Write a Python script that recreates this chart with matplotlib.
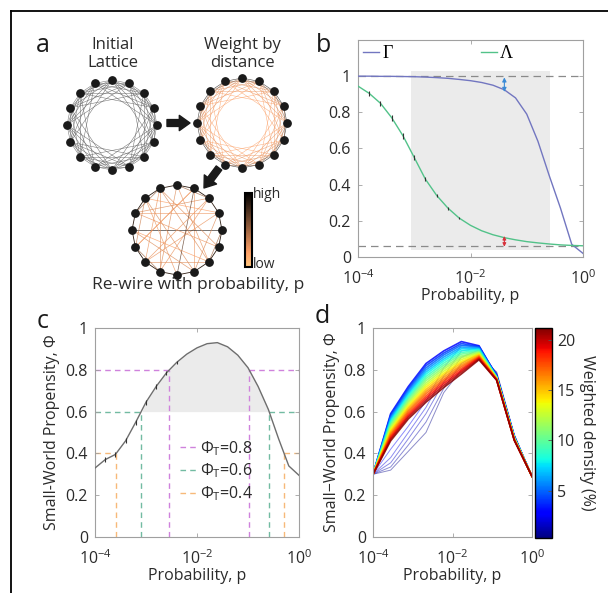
import matplotlib
matplotlib.use("Agg")
import matplotlib.pyplot as plt
import numpy as np
from matplotlib.cm import ScalarMappable
from matplotlib.colors import Normalize
from matplotlib.lines import Line2D
from matplotlib.ticker import NullLocator

plt.rcParams["font.family"] = ["Open Sans", "DejaVu Sans"]
plt.rcParams["mathtext.fontset"] = "custom"
plt.rcParams["mathtext.rm"] = "Open Sans"
plt.rcParams["mathtext.it"] = "Open Sans:italic"

# ---------------- data ----------------
# panel a: ring networks (16 nodes, node 0 at top, clockwise)
n_nodes = 16
lattice_hops = [1, 2, 3, 4, 5]
hop_weights = [0.95, 0.55, 0.3, 0.25, 0.2]
rewired_edges = [
    (0, 6, 0.25), (0, 9, 0.3), (1, 7, 0.25), (1, 11, 0.3), (2, 9, 0.25),
    (2, 13, 0.3), (3, 10, 0.25), (3, 14, 0.2), (12, 4, 0.95), (5, 13, 0.25),
    (5, 15, 0.3), (6, 12, 0.2), (7, 14, 0.3), (8, 1, 0.7), (8, 14, 0.25),
    (9, 15, 0.3), (10, 2, 0.25), (10, 6, 0.3), (11, 1, 0.2), (12, 7, 0.3),
    (13, 3, 0.25), (15, 6, 0.3), (15, 10, 0.25), (7, 3, 0.3), (14, 11, 0.35),
    (0, 2, 0.5), (4, 6, 0.5), (9, 11, 0.5), (13, 15, 0.5),
]

# panel b
p_b = [1e-4, 1.58e-4, 2.51e-4, 3.98e-4, 6.31e-4, 1e-3, 1.58e-3, 2.51e-3,
       3.98e-3, 6.31e-3, 1e-2, 1.58e-2, 2.51e-2, 3.98e-2, 6.31e-2, 0.1,
       0.158, 0.251, 0.398, 0.631, 1.0]
gamma = [1.0, 1.0, 0.999, 0.999, 0.998, 0.997, 0.995, 0.992, 0.988, 0.982,
         0.975, 0.965, 0.95, 0.925, 0.88, 0.79, 0.64, 0.45, 0.27, 0.07, 0.02]
lam = [0.945, 0.905, 0.85, 0.77, 0.67, 0.55, 0.43, 0.34, 0.27, 0.215, 0.175,
       0.145, 0.123, 0.107, 0.095, 0.085, 0.078, 0.072, 0.067, 0.064, 0.062]
lam_err = [0, 0.015, 0.015, 0.016, 0.016, 0.015, 0.012, 0.01, 0.008, 0.006,
           0, 0, 0, 0, 0, 0, 0, 0, 0, 0, 0]
shade_p = [8.7e-4, 0.26]
shade_y = [0.04, 1.03]
lam_floor = 0.062
arrow_p = 0.04
gamma_gap = [0.913, 0.993]
lam_gap = [0.057, 0.116]

# panel c
p_c = p_b
phi = [0.33, 0.37, 0.395, 0.46, 0.55, 0.645, 0.72, 0.785, 0.835, 0.875,
       0.905, 0.925, 0.93, 0.91, 0.87, 0.81, 0.72, 0.61, 0.47, 0.34, 0.295]
phi_err = [0, 0.012, 0.012, 0.012, 0.012, 0.012, 0.01, 0.01, 0.008, 0,
           0, 0, 0, 0, 0, 0, 0, 0, 0, 0, 0]
thresholds = [0.8, 0.6, 0.4]
thr_colors = ["#cf82dc", "#72bba2", "#f7b979"]
shade_level = 0.6

# panel d
p_d = [1e-4, 2.78e-4, 7.74e-4, 2.15e-3, 5.99e-3, 1.67e-2, 4.64e-2,
       0.129, 0.359, 1.0]
densities = [0.5, 1.0, 1.5, 2.0, 2.5, 3, 4, 5, 6, 7, 8, 9, 10, 11, 12,
             13, 14, 15, 16, 17, 18, 19, 20, 21]
phi_d = [
    [0.30, 0.320, 0.410, 0.500, 0.690, 0.800, 0.860, 0.790, 0.490, 0.29],
    [0.30, 0.335, 0.440, 0.550, 0.710, 0.830, 0.880, 0.785, 0.488, 0.29],
    [0.30, 0.355, 0.470, 0.590, 0.740, 0.860, 0.895, 0.780, 0.486, 0.29],
    [0.30, 0.380, 0.500, 0.620, 0.770, 0.890, 0.905, 0.780, 0.484, 0.29],
    [0.30, 0.420, 0.530, 0.650, 0.810, 0.915, 0.915, 0.775, 0.482, 0.29],
    [0.30, 0.590, 0.720, 0.830, 0.890, 0.935, 0.915, 0.770, 0.480, 0.29],
    [0.30, 0.583, 0.711, 0.820, 0.880, 0.926, 0.911, 0.769, 0.479, 0.29],
    [0.30, 0.576, 0.703, 0.809, 0.871, 0.918, 0.908, 0.768, 0.478, 0.29],
    [0.30, 0.568, 0.694, 0.799, 0.861, 0.909, 0.904, 0.767, 0.477, 0.29],
    [0.30, 0.561, 0.686, 0.789, 0.851, 0.901, 0.900, 0.766, 0.476, 0.29],
    [0.30, 0.554, 0.677, 0.779, 0.842, 0.892, 0.897, 0.765, 0.475, 0.29],
    [0.30, 0.547, 0.668, 0.768, 0.832, 0.883, 0.893, 0.763, 0.474, 0.29],
    [0.30, 0.540, 0.660, 0.758, 0.822, 0.875, 0.889, 0.762, 0.473, 0.29],
    [0.30, 0.532, 0.651, 0.748, 0.812, 0.866, 0.885, 0.761, 0.472, 0.29],
    [0.30, 0.525, 0.643, 0.737, 0.803, 0.858, 0.882, 0.760, 0.471, 0.29],
    [0.30, 0.518, 0.634, 0.727, 0.793, 0.849, 0.878, 0.759, 0.470, 0.29],
    [0.30, 0.511, 0.625, 0.717, 0.783, 0.840, 0.874, 0.758, 0.469, 0.29],
    [0.30, 0.504, 0.617, 0.706, 0.774, 0.832, 0.871, 0.757, 0.468, 0.29],
    [0.30, 0.496, 0.608, 0.696, 0.764, 0.823, 0.867, 0.756, 0.467, 0.29],
    [0.30, 0.489, 0.600, 0.686, 0.754, 0.815, 0.863, 0.755, 0.466, 0.29],
    [0.30, 0.482, 0.591, 0.675, 0.745, 0.806, 0.860, 0.754, 0.465, 0.29],
    [0.30, 0.475, 0.582, 0.665, 0.735, 0.797, 0.856, 0.752, 0.464, 0.29],
    [0.30, 0.468, 0.574, 0.655, 0.725, 0.789, 0.852, 0.751, 0.463, 0.29],
    [0.30, 0.460, 0.565, 0.645, 0.715, 0.780, 0.848, 0.750, 0.462, 0.29],
]
dens_range = [0.27, 21.2]
cbar_ticks = [5, 10, 15, 20]

log_ticks = [1e-4, 1e-2, 1e0]
y_ticks = [0, 0.2, 0.4, 0.6, 0.8, 1.0]
y_labels = ["0", "0.2", "0.4", "0.6", "0.8", "1"]

# ---------------- layout helpers ----------------
W, H = 608, 593
fig = plt.figure(figsize=(W / 100, H / 100), dpi=100)


def rect(l, t, r, b):
    return [l / W, 1 - b / H, (r - l) / W, (b - t) / H]


spine_col = "#a0a0a0"
text_col = "#2b2b2b"
fs = 11.5


def matlab_style(ax):
    for s in ax.spines.values():
        s.set_color(spine_col)
        s.set_linewidth(0.8)
    ax.tick_params(direction="in", length=3, width=0.6, color=spine_col,
                   labelsize=fs, labelcolor=text_col, top=True, right=True)
    ax.tick_params(axis="x", pad=9)
    ax.tick_params(axis="y", pad=5)
    ax.set_xscale("log")
    ax.set_xlim(1e-4, 1)
    ax.set_xticks(log_ticks)
    ax.xaxis.set_minor_locator(NullLocator())
    ax.set_yticks(y_ticks)
    ax.set_yticklabels(y_labels)
    ax.set_xlabel("Probability, p", fontsize=fs, color=text_col, labelpad=0)


# ---------------- panel a ----------------
ax_a = fig.add_axes([0, 0, 1, 1], zorder=-1)
ax_a.set_xlim(0, W)
ax_a.set_ylim(H, 0)
ax_a.axis("off")

# frame of the figure
ax_a.plot([11, 11], [H, 11], color="black", lw=1.3)
ax_a.plot([11, W], [11, 11], color="black", lw=1.3)

copper = plt.get_cmap("copper_r")


def ring(cx, cy, r=45):
    ang = np.deg2rad(90 - 360 / n_nodes * np.arange(n_nodes))
    return cx + r * np.cos(ang), cy - r * np.sin(ang)


def draw_nodes(xs, ys):
    ax_a.scatter(xs, ys, s=28, color="#1a1a1a", zorder=5)


# initial lattice
xs, ys = ring(112, 125)
for hop in lattice_hops:
    for i in range(n_nodes):
        j = (i + hop) % n_nodes
        ax_a.plot([xs[i], xs[j]], [ys[i], ys[j]], color="#666666", lw=0.4,
                  alpha=0.85)
draw_nodes(xs, ys)

# weighted by distance
xs, ys = ring(242, 123)
for hop, w in zip(lattice_hops, hop_weights):
    for i in range(n_nodes):
        j = (i + hop) % n_nodes
        ax_a.plot([xs[i], xs[j]], [ys[i], ys[j]], color=copper(w), lw=0.4,
                  alpha=0.75)
draw_nodes(xs, ys)

# rewired
xs, ys = ring(177, 230)
for i in range(n_nodes):
    j = (i + 1) % n_nodes
    ax_a.plot([xs[i], xs[j]], [ys[i], ys[j]], color=copper(0.85), lw=0.6)
for i, j, w in rewired_edges:
    ax_a.plot([xs[i], xs[j]], [ys[i], ys[j]], color=copper(w), lw=0.5,
              alpha=0.8)
draw_nodes(xs, ys)

arrow_kw = dict(arrowstyle="simple,head_length=0.7,head_width=1.0,tail_width=0.45",
                color="#1a1a1a", mutation_scale=11, shrinkA=0, shrinkB=0)
ax_a.annotate("", xy=(190, 123), xytext=(167, 123), arrowprops=arrow_kw)
ax_a.annotate("", xy=(204, 188), xytext=(219, 168), arrowprops=arrow_kw)

ax_a.text(113, 54, "Initial\nLattice", ha="center", va="center",
          fontsize=12, color=text_col, linespacing=1.15)
ax_a.text(242, 54, "Weight by\ndistance", ha="center", va="center",
          fontsize=12, color=text_col, linespacing=1.15)
ax_a.text(198, 285, "Re-wire with probability, p", ha="center", va="center",
          fontsize=12.5, color=text_col)
ax_a.text(253, 195, "high", ha="left", va="center", fontsize=10, color=text_col)
ax_a.text(253, 265, "low", ha="left", va="center", fontsize=10, color=text_col)

cax_a = fig.add_axes(rect(245, 193, 252, 267))
cb_a = fig.colorbar(ScalarMappable(cmap=copper), cax=cax_a)
cb_a.set_ticks([])
cb_a.outline.set_linewidth(1.5)
cb_a.outline.set_edgecolor("black")

# panel letters
for letter, x, y in [("a", 43, 46), ("b", 323, 46), ("c", 43, 322), ("d", 322, 317)]:
    fig.text(x / W, 1 - y / H, letter, fontsize=18, ha="center", va="center",
             color="#1a1a1a")

# ---------------- panel b ----------------
ax_b = fig.add_axes(rect(358, 40, 583, 257))
matlab_style(ax_b)
ax_b.set_ylim(0, 1.2)
ax_b.fill_between(shade_p, shade_y[0], shade_y[1], color="#ebebeb", lw=0, zorder=0)
ax_b.axhline(1.0, color="#8a8a8a", lw=0.9, ls=(0, (6, 4)), zorder=1)
ax_b.axhline(lam_floor, color="#8a8a8a", lw=0.9, ls=(0, (6, 4)), zorder=1)
ax_b.plot(p_b, gamma, color="#7276c0", lw=1.0, label="Γ", zorder=3)
ax_b.plot(p_b, lam, color="#52c289", lw=1.0, label="Λ", zorder=3)
ax_b.errorbar(p_b, lam, yerr=lam_err, fmt="none", ecolor="#333333",
              elinewidth=0.8, zorder=4)
ax_b.annotate("", xy=(arrow_p, gamma_gap[1]), xytext=(arrow_p, gamma_gap[0]),
              arrowprops=dict(arrowstyle="<|-|>", color="#3a8ad6", lw=0.8,
                              mutation_scale=6, shrinkA=0, shrinkB=0))
ax_b.annotate("", xy=(arrow_p, lam_gap[1]), xytext=(arrow_p, lam_gap[0]),
              arrowprops=dict(arrowstyle="<|-|>", color="#d8323c", lw=0.8,
                              mutation_scale=5, shrinkA=0, shrinkB=0))
ax_b.legend(loc="upper left", bbox_to_anchor=(0.0, 1.0), ncol=2,
            frameon=False, handlelength=0.85, handletextpad=0.2,
            borderaxespad=0.1, borderpad=0.2,
            columnspacing=4.9, prop={"family": "Liberation Serif", "size": 13})

# ---------------- panel c ----------------
ax_c = fig.add_axes(rect(95, 328, 299, 537))
matlab_style(ax_c)
ax_c.set_ylim(0, 1)
ax_c.set_ylabel("Small-World Propensity, Φ", fontsize=fs, color=text_col,
                labelpad=4)
logp = np.log10(p_c)
phi_arr = np.array(phi)
ax_c.fill_between(p_c, shade_level, phi_arr, where=phi_arr >= shade_level,
                  interpolate=True, color="#ebebeb", lw=0, zorder=0)
peak = int(np.argmax(phi_arr))
handles = []
for thr, col in zip(thresholds, thr_colors):
    p_left = 10 ** np.interp(thr, phi_arr[:peak + 1], logp[:peak + 1])
    p_right = 10 ** np.interp(thr, phi_arr[peak:][::-1], logp[peak:][::-1])
    kw = dict(color=col, lw=1.0, ls=(0, (4, 3)), zorder=1)
    ax_c.plot([1e-4, p_left], [thr, thr], **kw)
    ax_c.plot([p_right, 1], [thr, thr], **kw)
    ax_c.plot([p_left, p_left], [0, thr], **kw)
    ax_c.plot([p_right, p_right], [0, thr], **kw)
    handles.append(Line2D([], [], **kw, label="Φ$_\\mathregular{T}$=%.1f" % thr))
ax_c.plot(p_c, phi, color="#6e6e6e", lw=1.0, zorder=3)
ax_c.errorbar(p_c, phi, yerr=phi_err, fmt="none", ecolor="#333333",
              elinewidth=0.8, zorder=4)
ax_c.legend(handles=handles, loc="upper left", bbox_to_anchor=(0.385, 0.5),
            frameon=False, fontsize=fs, handlelength=1.0, handletextpad=0.25,
            borderaxespad=0.0, labelspacing=0.25, labelcolor=text_col)

# ---------------- panel d ----------------
ax_d = fig.add_axes(rect(373, 328, 532, 537))
matlab_style(ax_d)
ax_d.set_ylim(0, 1)
ax_d.set_ylabel("Small\u2212World Propensity, Φ", fontsize=fs, color=text_col,
                labelpad=3)
jet = plt.get_cmap("jet")
norm = Normalize(*dens_range)
for dens, row in zip(densities, phi_d):
    if dens < 3:
        ax_d.plot(p_d, row, color=jet(norm(dens)), lw=0.7, alpha=0.45)
    else:
        ax_d.plot(p_d, row, color=jet(norm(dens)), lw=1.2, alpha=0.85)

cax_d = fig.add_axes(rect(535, 328, 552, 538))
cb_d = fig.colorbar(ScalarMappable(norm=norm, cmap=jet), cax=cax_d,
                    ticks=cbar_ticks)
cb_d.outline.set_edgecolor("black")
cb_d.outline.set_linewidth(1.0)
cax_d.tick_params(direction="in", length=3, width=0.6, color="#555555",
                  labelsize=fs, labelcolor=text_col)
cb_d.set_label("Weighted density (%)", rotation=270, fontsize=fs,
               color=text_col, labelpad=14)

fig.savefig("out.png", dpi=100)
